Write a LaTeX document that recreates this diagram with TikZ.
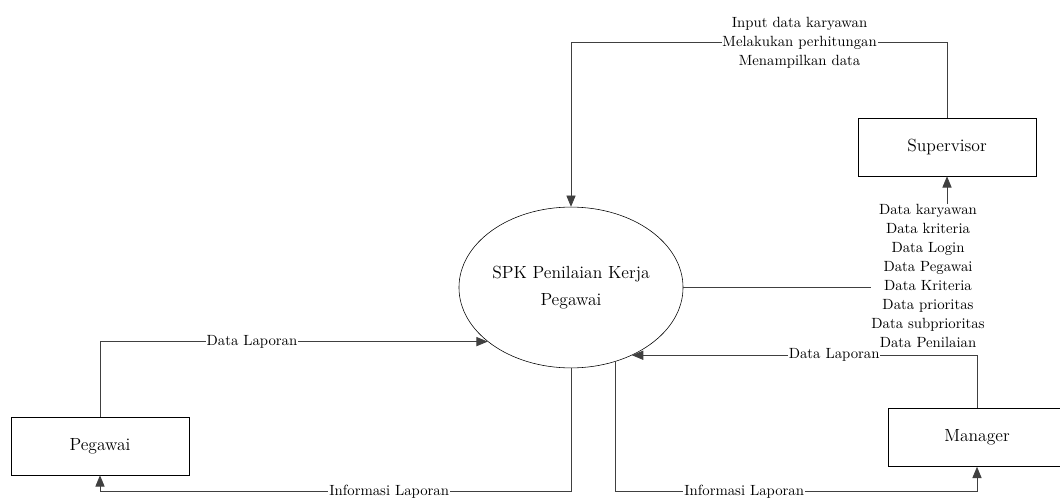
\documentclass[tikz,border=0pt]{standalone}
\usetikzlibrary{shapes.geometric,arrows.meta}

\tikzset{
  entity/.style={draw, rectangle, minimum width=4.45cm, minimum height=1.45cm, font=\fontsize{12.5}{15}\selectfont},
  process/.style={draw, ellipse, minimum width=5.6cm, minimum height=4.02cm, inner sep=0pt, align=center, font=\fontsize{12.5}{19}\selectfont},
  flow/.style={draw=black!75, line width=0.6pt, -{Triangle[length=8pt,width=6.5pt]}},
  lbl/.style={fill=white, inner sep=0.6pt, align=center, font=\fontsize{10.5}{13.5}\selectfont}
}

\begin{document}
\begin{tikzpicture}[x=0.025cm, y=-0.025cm]
        \useasboundingbox (0,0) rectangle (1060,499);

        % Draw process and entities
        \node[process] (spk) at (571,287.5) {SPK Penilaian Kerja\\Pegawai};
        \node[entity] (sup) at (947,147) {Supervisor};
        \node[entity] (pgw) at (100,446) {Pegawai};
        \node[entity] (mgr) at (977,437.5) {Manager};

        % Draw flows
        \draw[flow] (sup.north) -- ++(0,-75) -| (spk.north)
            node[lbl, pos=0.196] (lsup) {Input data karyawan\\Melakukan perhitungan\\Menampilkan data};
        \draw[flow] (spk.east) -| (sup.south);
        \node[lbl] (ldata) at (928,276) {Data karyawan\\Data kriteria\\Data Login\\Data Pegawai\\Data Kriteria\\Data prioritas\\Data subprioritas\\Data Penilaian};

        \draw[flow] (pgw.north) |- (spk.213.5)
            node[lbl, pos=0.696] (lpgw) {Data Laporan};
        \draw[flow] (spk.south) -- ++(0,123.5) -| (pgw.south)
            node[lbl, pos=0.193] (ipgw) {Informasi Laporan};

        \draw[flow] (mgr.north) |- (spk.-48)
            node[lbl, pos=0.707] (lmgr) {Data Laporan};
        \draw[flow] (spk.-59) -- ++(0,130) -| (mgr.south)
            node[lbl, pos=0.178] (imgr) {Informasi Laporan};
\end{tikzpicture}
\end{document}
